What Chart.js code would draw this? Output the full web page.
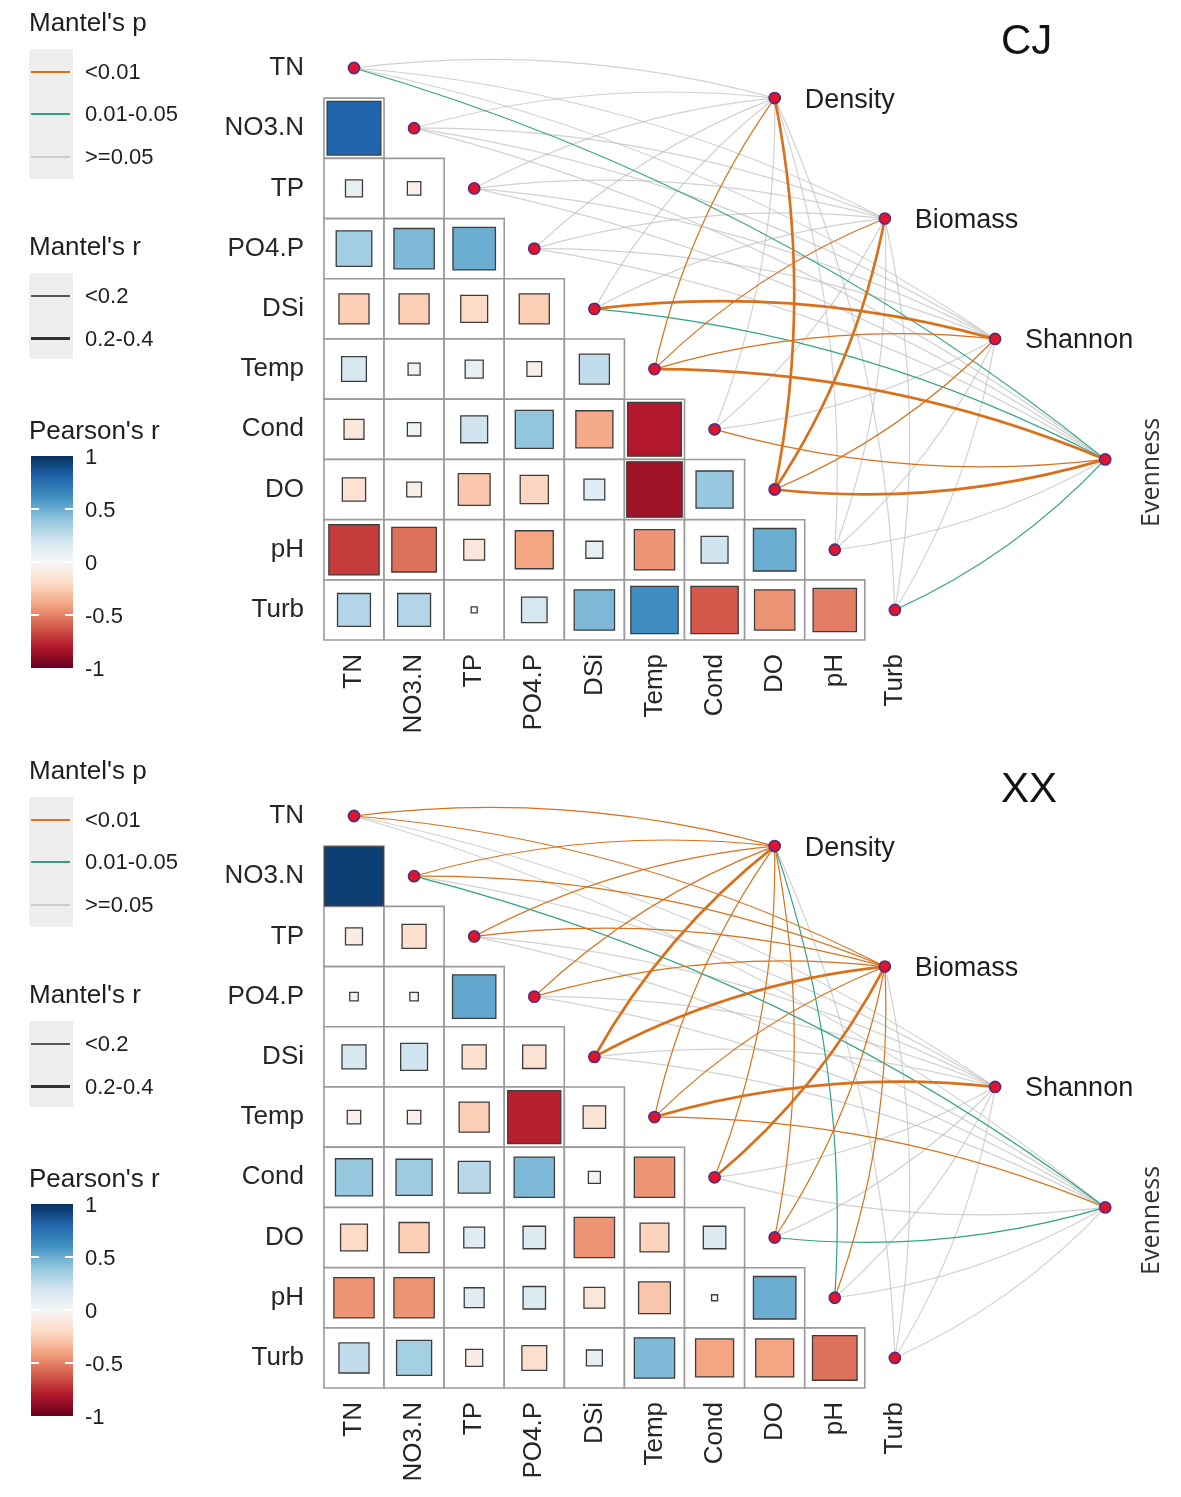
<!DOCTYPE html>
<html>
<head>
<meta charset="utf-8">
<script src="https://cdn.jsdelivr.net/npm/chart.js@4.4.1/dist/chart.umd.min.js"></script>
<style>
  body { margin: 0; background: #fff; font-family: "Liberation Sans", Arial, sans-serif; }
  .panel { position: relative; width: 1181px; overflow: hidden; }
  .panel canvas { position: absolute; left: 0; top: 0; }
  .lt { position: absolute; left: 29px; font-size: 26px; line-height: 26px; color: #1e1e1e; white-space: nowrap; }
  .kbox { position: absolute; left: 29px; width: 44px; background: #eeeeee; }
  .kline { position: absolute; left: 31px; width: 39px; }
  .kl { position: absolute; left: 85px; font-size: 22px; line-height: 22px; color: #1e1e1e; white-space: nowrap; }
  .cbar { position: absolute; left: 31px; top: 456px; width: 42px; height: 212px; }
  .ctick { position: absolute; width: 8px; height: 2px; background: #fff; }
  .ttl { position: absolute; font-size: 42px; line-height: 42px; color: #111; }
</style>
</head>
<body>
<div class="panel" id="panel-cj" style="height:748px"><canvas id="cj" width="1181" height="748"></canvas></div>
<div class="panel" id="panel-xx" style="height:749px"><canvas id="xx" width="1181" height="749"></canvas></div>
<script>
// environmental variables (rows / columns of the correlation triangle)
const envNames = ["TN", "NO3.N", "TP", "PO4.P", "DSi", "Temp", "Cond", "DO", "pH", "Turb"];
// community indices linked by Mantel tests
const targetNames = ["Density", "Biomass", "Shannon", "Evenness"];

// Pearson's r, lower triangle, row by row (row i has columns 0..i-1)
const cjPearson = [
  [],
  [0.80],
  [0.08, -0.05],
  [0.35, 0.45, 0.50],
  [-0.25, -0.25, -0.20, -0.25],
  [0.17, 0.04, 0.09, -0.06, 0.25],
  [-0.11, 0.05, 0.20, 0.40, -0.38, -0.80],
  [-0.15, -0.06, -0.28, -0.22, 0.12, -0.85, 0.38],
  [-0.70, -0.55, -0.12, -0.40, 0.08, -0.45, 0.20, 0.50],
  [0.30, 0.30, 0.01, 0.18, 0.45, 0.62, -0.62, -0.45, -0.52]
];
const xxPearson = [
  [],
  [0.95],
  [-0.08, -0.16],
  [0.02, 0.02, 0.52],
  [0.16, 0.20, -0.16, -0.15],
  [-0.05, -0.05, -0.25, -0.78, -0.14],
  [0.38, 0.36, 0.28, 0.45, 0.04, -0.45],
  [-0.20, -0.25, 0.12, 0.14, -0.45, -0.23, 0.14],
  [-0.45, -0.45, 0.11, 0.14, -0.12, -0.28, 0.01, 0.50],
  [0.25, 0.34, -0.08, -0.17, 0.07, 0.45, -0.40, -0.40, -0.55]
];

// Mantel's p class per target (0: <0.01, 1: 0.01-0.05, 2: >=0.05), env order as envNames
const cjMantelP = {
  Density:  [2, 2, 2, 2, 2, 0, 2, 0, 2, 2],
  Biomass:  [2, 2, 2, 2, 2, 0, 2, 0, 2, 2],
  Shannon:  [2, 2, 2, 2, 0, 0, 2, 0, 2, 2],
  Evenness: [1, 2, 2, 2, 1, 0, 0, 0, 2, 1]
};
// Mantel's r class (0: <0.2, 1: 0.2-0.4)
const cjMantelR = {
  Density:  [0, 0, 0, 0, 0, 0, 0, 1, 0, 0],
  Biomass:  [0, 0, 0, 0, 0, 0, 0, 1, 0, 0],
  Shannon:  [0, 0, 0, 0, 1, 0, 0, 0, 0, 0],
  Evenness: [0, 0, 0, 0, 0, 1, 0, 1, 0, 0]
};
const xxMantelP = {
  Density:  [0, 0, 0, 0, 0, 0, 0, 0, 1, 2],
  Biomass:  [0, 0, 0, 0, 0, 0, 0, 0, 0, 2],
  Shannon:  [2, 2, 2, 2, 2, 0, 2, 2, 2, 2],
  Evenness: [2, 1, 2, 2, 2, 0, 2, 1, 2, 2]
};
const xxMantelR = {
  Density:  [0, 0, 0, 0, 1, 0, 0, 0, 0, 0],
  Biomass:  [0, 0, 0, 0, 1, 0, 1, 0, 0, 0],
  Shannon:  [0, 0, 0, 0, 0, 1, 0, 0, 0, 0],
  Evenness: [0, 0, 0, 0, 0, 0, 0, 0, 0, 0]
};

// colour bar ticks
const pearsonTicks = [1, 0.5, 0, -0.5, -1];

// layout of the target nodes, in grid units
const targetX = [7, 8.833, 10.667, 12.5];
const targetY = [0.5, 2.5, 4.5, 6.5];

const FONT = '"Liberation Sans", Arial, sans-serif';
const rdbu = ["#67001F", "#B2182B", "#D6604D", "#F4A582", "#FDDBC7", "#F7F7F7",
              "#D1E5F0", "#92C5DE", "#4393C3", "#2166AC", "#053061"];
const pColors = ["#D9711C", "#2FA285", "rgba(190,190,190,0.7)"];
const rWidths = [1.2, 2.7];

function hexToRgb(h) {
  const n = parseInt(h.slice(1), 16);
  return [(n >> 16) & 255, (n >> 8) & 255, n & 255];
}

function rdbuColor(v) {
  const t = Math.max(0, Math.min(10, (v + 1) / 2 * 10));
  const i = Math.min(9, Math.floor(t));
  const f = t - i;
  const a = hexToRgb(rdbu[i]), b = hexToRgb(rdbu[i + 1]);
  const c = a.map((x, k) => Math.round(x + (b[k] - x) * f));
  return `rgb(${c[0]},${c[1]},${c[2]})`;
}

function cellUnit(chart) {
  const s = chart.scales.x;
  return Math.abs(s.getPixelForValue(1) - s.getPixelForValue(0));
}

function addLegend(panel, title) {
  const parts = [];
  parts.push(`<div class="lt" style="top:9px">Mantel's p</div>`);
  parts.push(`<div class="kbox" style="top:49px;height:130px"></div>`);
  const pLabels = ["<0.01", "0.01-0.05", ">=0.05"];
  const pY = [72, 114, 157];
  pLabels.forEach((l, i) => {
    parts.push(`<div class="kline" style="top:${pY[i] - 1}px;height:2px;background:${pColors[i]}"></div>`);
    parts.push(`<div class="kl" style="top:${pY[i] - 11}px">${l.replace("<", "&lt;").replace(">", "&gt;")}</div>`);
  });
  parts.push(`<div class="lt" style="top:233px">Mantel's r</div>`);
  parts.push(`<div class="kbox" style="top:273px;height:86px"></div>`);
  parts.push(`<div class="kline" style="top:295px;height:1.5px;background:#555"></div>`);
  parts.push(`<div class="kl" style="top:285px">&lt;0.2</div>`);
  parts.push(`<div class="kline" style="top:337px;height:3px;background:#333"></div>`);
  parts.push(`<div class="kl" style="top:328px">0.2-0.4</div>`);
  parts.push(`<div class="lt" style="top:417px">Pearson's r</div>`);
  const grad = rdbu.slice().reverse().join(",");
  parts.push(`<div class="cbar" style="background:linear-gradient(to bottom, ${grad})"></div>`);
  pearsonTicks.forEach((v) => {
    const y = 456 + (1 - v) / 2 * 212;
    if (v !== 1 && v !== -1) {
      parts.push(`<div class="ctick" style="left:31px;top:${y - 1}px"></div>`);
      parts.push(`<div class="ctick" style="left:65px;top:${y - 1}px"></div>`);
    }
    parts.push(`<div class="kl" style="top:${y - 10}px">${v}</div>`);
  });
  parts.push(`<div class="ttl" style="left:1001px;top:19px">${title}</div>`);
  panel.insertAdjacentHTML("beforeend", parts.join(""));
}

function makeChart(canvasId, pearson, mantelP, mantelR) {
  const cells = [], squares = [];
  for (let i = 1; i < envNames.length; i++) {
    for (let j = 0; j < i; j++) {
      cells.push({ x: j, y: i });
      squares.push({ x: j, y: i, r: pearson[i][j] });
    }
  }
  const nodes = envNames.map((n, i) => ({ x: i, y: i }))
    .concat(targetNames.map((n, k) => ({ x: targetX[k], y: targetY[k] })));

  // Mantel links, drawn as curves under the nodes
  const links = [];
  targetNames.forEach((t, k) => {
    envNames.forEach((e, i) => {
      links.push({ env: i, target: k, p: mantelP[t][i], r: mantelR[t][i] });
    });
  });
  links.sort((a, b) => b.p - a.p);

  const linkPlugin = {
    id: "mantelLinks",
    beforeDatasetDraw(chart, args) {
      if (chart.data.datasets[args.index].label !== "nodes") return;
      const xs = chart.scales.x, ys = chart.scales.y, ctx = chart.ctx;
      ctx.save();
      ctx.lineCap = "round";
      links.forEach((l) => {
        const x0 = xs.getPixelForValue(l.env), y0 = ys.getPixelForValue(l.env);
        const x1 = xs.getPixelForValue(targetX[l.target]), y1 = ys.getPixelForValue(targetY[l.target]);
        const dx = x1 - x0, dy = y1 - y0, len = Math.hypot(dx, dy);
        // upper rows bend to the left of travel, lower rows to the right
        const s = l.env <= 5 ? 1 : -1;
        const nx = s * dy / len, ny = -s * dx / len;
        const bend = 0.1 * len;
        const cx = (x0 + x1) / 2 + nx * bend, cy = (y0 + y1) / 2 + ny * bend;
        ctx.beginPath();
        ctx.moveTo(x0, y0);
        ctx.quadraticCurveTo(cx, cy, x1, y1);
        ctx.strokeStyle = pColors[l.p];
        ctx.lineWidth = rWidths[l.r];
        ctx.stroke();
      });
      ctx.restore();
    },
    afterDatasetsDraw(chart) {
      const xs = chart.scales.x, ys = chart.scales.y, ctx = chart.ctx;
      ctx.save();
      ctx.fillStyle = "#1e1e1e";
      ctx.font = `27px ${FONT}`;
      ctx.textBaseline = "middle";
      ctx.textAlign = "left";
      for (let k = 0; k < 3; k++) {
        ctx.fillText(targetNames[k], xs.getPixelForValue(targetX[k]) + 30, ys.getPixelForValue(targetY[k]) + 2);
      }
      const ex = xs.getPixelForValue(targetX[3]) + 47, ey = ys.getPixelForValue(targetY[3]) + 13;
      ctx.translate(ex, ey);
      ctx.rotate(-Math.PI / 2);
      ctx.textAlign = "center";
      ctx.fillStyle = "#333";
      ctx.font = `25px "Open Sans", ${FONT}`;
      ctx.fillText(targetNames[3], 0, 0);
      ctx.restore();
    }
  };

  const tickFont = { family: FONT, size: 26 };
  return new Chart(document.getElementById(canvasId), {
    type: "scatter",
    data: {
      datasets: [
        {
          label: "nodes",
          data: nodes,
          pointStyle: "circle",
          pointRadius: 5.5,
          backgroundColor: "#e3132b",
          borderColor: "#55307f",
          borderWidth: 1.8,
          order: 1,
          clip: false
        },
        {
          label: "squares",
          data: squares,
          pointStyle: "rect",
          pointRadius: (c) => c.raw ? cellUnit(c.chart) * Math.sqrt(Math.abs(c.raw.r)) / Math.SQRT2 : 0,
          backgroundColor: (c) => c.raw ? rdbuColor(c.raw.r) : "#fff",
          borderColor: "#3d3d3d",
          borderWidth: 1.3,
          order: 2,
          clip: false
        },
        {
          label: "cells",
          data: cells,
          pointStyle: "rect",
          pointRadius: (c) => cellUnit(c.chart) / Math.SQRT2,
          backgroundColor: "#ffffff",
          borderColor: "#9a9a9a",
          borderWidth: 1.6,
          order: 3,
          clip: false
        }
      ]
    },
    options: {
      responsive: false,
      animation: false,
      events: [],
      layout: { padding: 0, autoPadding: false },
      plugins: { legend: { display: false }, tooltip: { enabled: false } },
      scales: {
        x: {
          type: "linear",
          position: "bottom",
          min: -0.732,
          max: 13.761,
          grid: { display: false, drawTicks: false },
          border: { display: false },
          afterBuildTicks: (s) => { s.ticks = envNames.map((n, i) => ({ value: i })); },
          afterFit: (s) => { s.height = s.chart.height - 645; s.paddingLeft = 0; s.paddingRight = 0; },
          ticks: {
            autoSkip: false,
            minRotation: 90,
            maxRotation: 90,
            padding: 9,
            color: "#262626",
            font: tickFont,
            callback: (v) => envNames[v]
          }
        },
        y: {
          type: "linear",
          position: "left",
          reverse: true,
          min: -1.129,
          max: 9.582,
          grid: { display: false, drawTicks: false },
          border: { display: false },
          afterBuildTicks: (s) => { s.ticks = envNames.map((n, i) => ({ value: i })); },
          afterFit: (s) => { s.width = 310; s.paddingTop = 0; s.paddingBottom = 0; },
          ticks: {
            autoSkip: false,
            padding: 6,
            color: "#262626",
            font: tickFont,
            callback: (v) => envNames[v]
          }
        }
      }
    },
    plugins: [linkPlugin]
  });
}

addLegend(document.getElementById("panel-cj"), "CJ");
addLegend(document.getElementById("panel-xx"), "XX");
makeChart("cj", cjPearson, cjMantelP, cjMantelR);
makeChart("xx", xxPearson, xxMantelP, xxMantelR);
</script>
</body>
</html>
